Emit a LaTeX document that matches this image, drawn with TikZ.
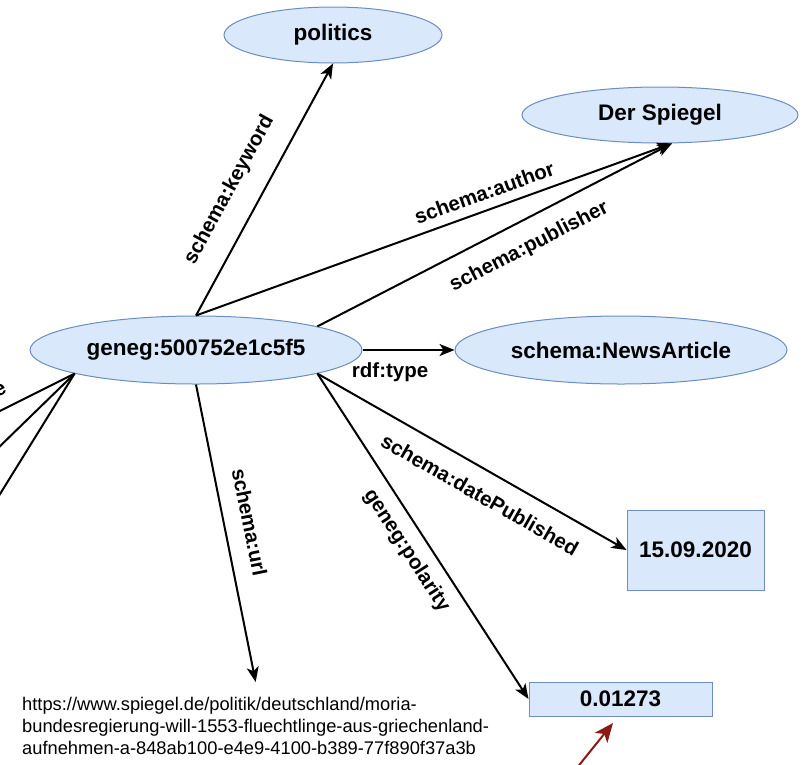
\documentclass[tikz,border=0pt]{standalone}
\usepackage{fontspec}
\setmainfont{Liberation Sans}
\usetikzlibrary{shapes.geometric,arrows.meta}
\definecolor{nodefill}{HTML}{DAE8FC}
\definecolor{nodeline}{HTML}{6C8EBF}
\definecolor{darkred}{HTML}{8B1A14}
\begin{document}
\begin{tikzpicture}[x=1pt,y=-1pt,
  ent/.style={ellipse, draw=nodeline, fill=nodefill, line width=1pt, inner sep=0pt, font=\fontsize{22.5}{26}\selectfont\bfseries},
  lit/.style={rectangle, draw=nodeline, fill=nodefill, line width=1pt, inner sep=0pt, font=\fontsize{22.5}{26}\selectfont\bfseries},
  rel/.style={line width=2pt, -{Stealth[length=15pt,width=12pt,inset=4pt]}},
  plain/.style={line width=2pt},
  lbl/.style={font=\fontsize{20.5}{24}\selectfont\bfseries, inner sep=0pt},
  urltext/.style={font=\fontsize{18.3}{22}\selectfont, align=left, inner xsep=0pt, inner ysep=15pt},
]
\useasboundingbox (0,0) rectangle (808,764);
\clip (0,0) rectangle (808,764);

\node[ent, minimum width=218pt, minimum height=56pt] (politics) at (333,35) {politics};
\node[ent, minimum width=276pt, minimum height=56pt] (spiegel) at (660,115) {Der Spiegel};
\node[ent, minimum width=332pt, minimum height=68pt] (geneg) at (196,350) {geneg:500752e1c5f5};
\node[ent, minimum width=332pt, minimum height=68pt] (news) at (621,350) {schema:NewsArticle};
\node[lit, minimum width=137pt, minimum height=80pt] (date) at (695.5,550) {15.09.2020};
\node[lit, minimum width=183pt, minimum height=34pt] (pol) at (620.5,699) {0.01273};
\node[urltext, anchor=north west] (url) at (22,682) {https://www.spiegel.de/politik/deutschland/moria-\\bundesregierung-will-1553-fluechtlinge-aus-griechenland-\\aufnehmen-a-848ab100-e4e9-4100-b389-77f890f37a3b};

\draw[rel] (geneg.north) -- node[lbl, sloped, above=20pt, pos=0.44] {schema:keyword} (politics.south);
\draw[rel] (geneg.north) -- node[lbl, sloped, above=9pt, pos=0.618] {schema:author} (spiegel.-67);
\draw[rel] (geneg.11) -- node[lbl, sloped, below=16pt, pos=0.563] {schema:publisher} (spiegel.-67);
\draw[rel] (geneg.east) -- node[lbl, below=12pt, pos=0.3] {rdf:type} (news.west);
\draw[rel] (geneg.-11) -- node[lbl, sloped, below=16pt, pos=0.565] {schema:datePublished} (date.west);
\draw[rel] (geneg.-11) -- node[lbl, sloped, below=11pt, pos=0.508] {geneg:polarity} (pol.west);
\draw[rel] (geneg.south) -- node[lbl, sloped, above=17pt, pos=0.48] {schema:url} (url.north);

\coordinate (l1) at (-78,450);
\coordinate (l2) at (-78,522);
\coordinate (l3) at (-78,620);
\draw[plain] (geneg.191) -- (l1);
\draw[plain] (geneg.191) -- (l2);
\draw[plain] (geneg.191) -- (l3);
\node[lbl, rotate=26] (elbl) at (0,390) {e};

\coordinate (redstart) at (576,769);
\coordinate (redtip) at (613,723);
\draw[darkred, line width=2pt, -{Stealth[length=19pt,width=16pt,inset=5pt]}] (redstart) -- (redtip);
\end{tikzpicture}
\end{document}
